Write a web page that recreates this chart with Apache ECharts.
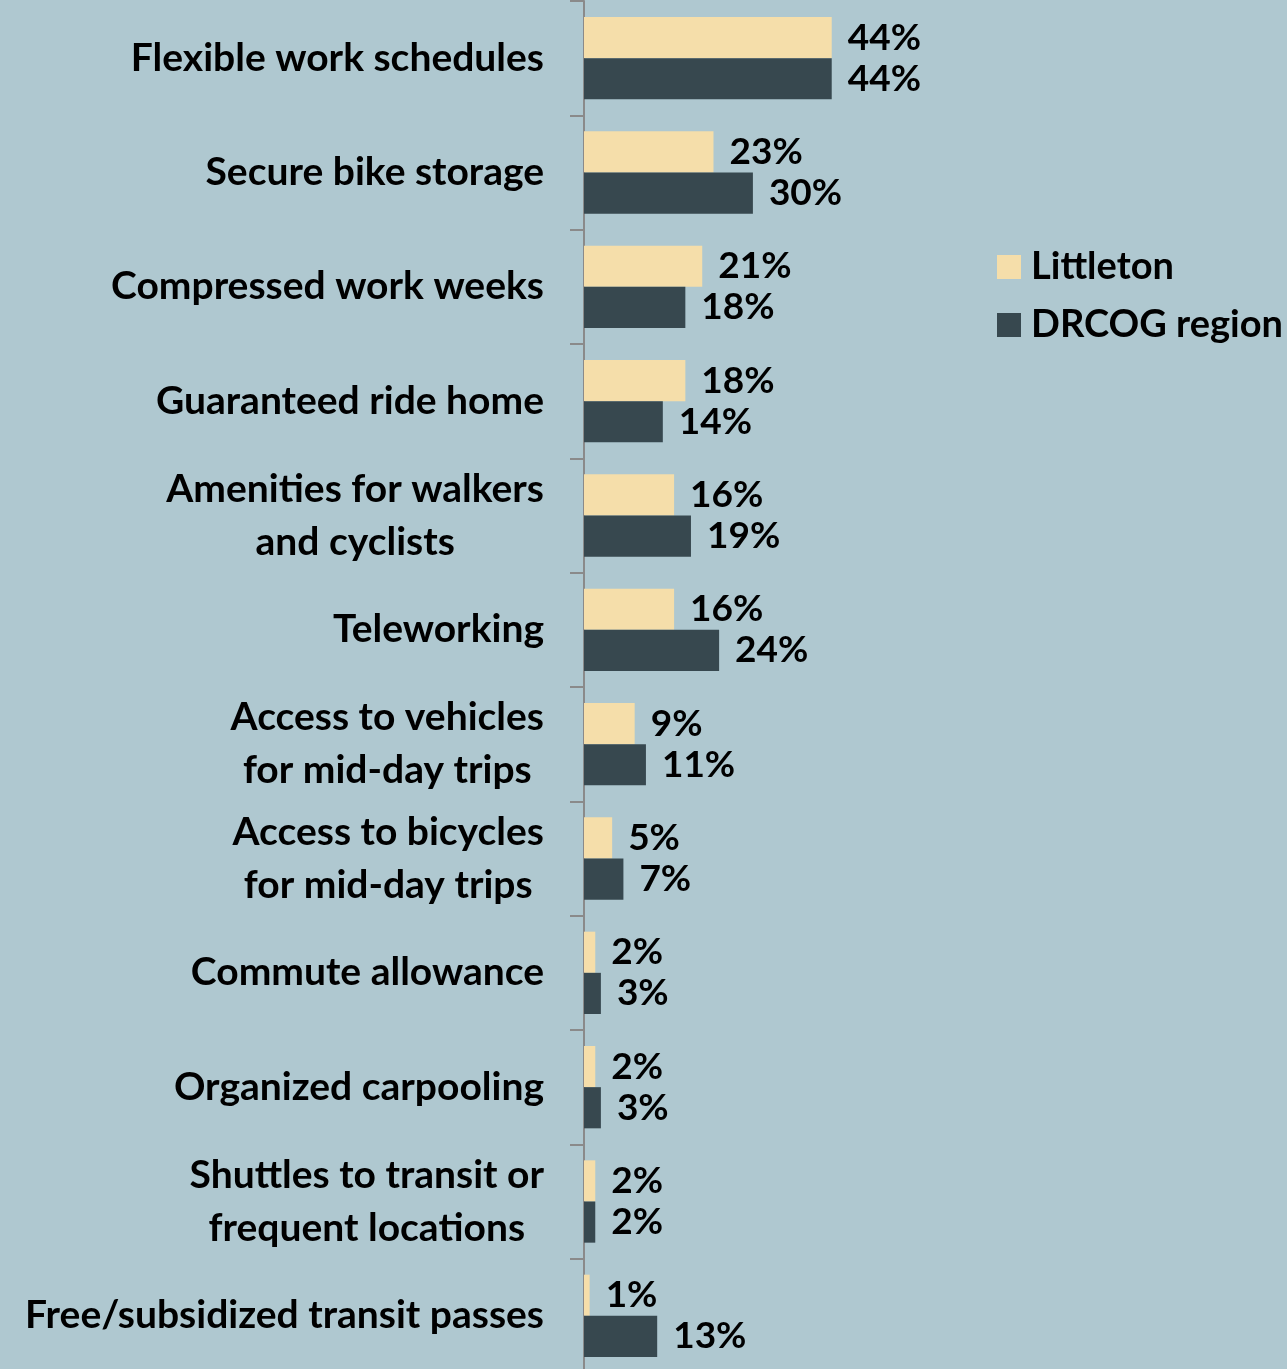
<!DOCTYPE html>
<html>
<head>
<meta charset="utf-8">
<script src="https://cdn.jsdelivr.net/npm/echarts@6/dist/echarts.min.js"></script>
<style>
  html, body { margin: 0; padding: 0; background: #afc8d0; }
  #main { width: 1287px; height: 1369px; }
</style>
</head>
<body>
<div id="main"></div>
<script>
var categories = [
    'Flexible work schedules',
    'Secure bike storage',
    'Compressed work weeks',
    'Guaranteed ride home',
    'Amenities for walkers\nand cyclists',
    'Teleworking',
    'Access to vehicles\nfor mid-day trips',
    'Access to bicycles\nfor mid-day trips',
    'Commute allowance',
    'Organized carpooling',
    'Shuttles to transit or\nfrequent locations',
    'Free/subsidized transit passes'
];
var littleton = [44, 23, 21, 18, 16, 16, 9, 5, 2, 2, 2, 1];
var drcog = [44, 30, 18, 14, 19, 24, 11, 7, 3, 3, 2, 13];

var font = 'Lato';

function bindChart() {
    var myChart = echarts.init(document.getElementById('main'));

    var labelStyle = {
        show: true,
        position: 'right',
        distance: 16,
        formatter: '{c}%',
        color: '#000',
        fontFamily: font,
        fontWeight: 'bold',
        fontSize: 37
    };

    var option = {
        backgroundColor: '#afc8d0',
        animation: false,
        legend: {
            orient: 'vertical',
            left: 992,
            top: 243,
            itemWidth: 24,
            itemHeight: 24,
            itemGap: 20,
            icon: 'rect',
            textStyle: { fontFamily: font, fontWeight: 'bold', fontSize: 38, color: '#000', padding: [0, 0, 0, 5] },
            data: ['Littleton', 'DRCOG region']
        },
        grid: { left: 584, top: 1, width: 563, height: 1372, outerBoundsMode: 'none' },
        xAxis: {
            type: 'value',
            min: 0,
            max: 100,
            show: false
        },
        yAxis: {
            type: 'category',
            inverse: true,
            data: categories,
            axisLine: { show: true, lineStyle: { color: '#8a8a8a', width: 2 } },
            axisTick: { show: true, length: 14, lineStyle: { color: '#8a8a8a', width: 2 } },
            axisLabel: {
                margin: 40,
                color: '#000',
                fontFamily: font,
                fontWeight: 'bold',
                fontSize: 39,
                formatter: function (v) {
                    return v.split('\n').map(function (s) { return '{c|' + s + '}'; }).join('\n');
                },
                rich: {
                    c: { align: 'center', fontFamily: font, fontWeight: 'bold', fontSize: 39, lineHeight: 53, color: '#000' }
                }
            }
        },
        series: [
            {
                name: 'Littleton',
                type: 'bar',
                data: littleton,
                barGap: '0%',
                barCategoryGap: '28%',
                itemStyle: { color: '#f5deaa' },
                label: labelStyle
            },
            {
                name: 'DRCOG region',
                type: 'bar',
                data: drcog,
                barGap: '0%',
                barCategoryGap: '28%',
                itemStyle: { color: '#37484f' },
                label: labelStyle
            }
        ]
    };

    myChart.setOption(option);
}

bindChart();
</script>
</body>
</html>
